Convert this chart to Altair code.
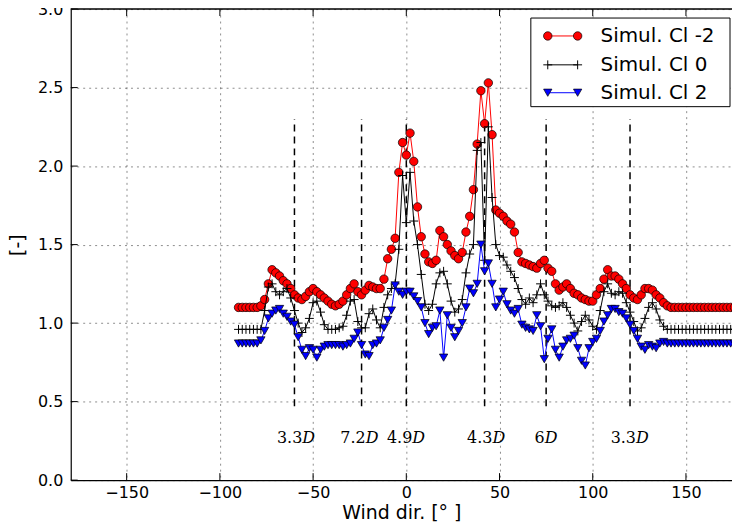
import altair as alt
import pandas as pd

# ---------------- data ----------------
wind_dir = list(range(-90, 182, 2))  # -90 .. 180 deg, 136 directions

series_names = ["Simul. Cl -2", "Simul. Cl 0", "Simul. Cl 2"]
series_colors = ["#ff0000", "#000000", "#0000ff"]

cl_m2 = [
    1.10, 1.10, 1.10, 1.10, 1.10, 1.10, 1.11, 1.15, 1.25, 1.34,
    1.32, 1.30, 1.27, 1.25, 1.22, 1.18, 1.16, 1.15, 1.17, 1.20,
    1.22, 1.20, 1.18, 1.16, 1.14, 1.12, 1.11, 1.12, 1.14, 1.18,
    1.22, 1.25, 1.20, 1.18, 1.21, 1.24, 1.23, 1.22, 1.22, 1.28,
    1.41, 1.47, 1.54, 1.96, 2.15, 2.07, 2.21, 2.03, 1.74, 1.55,
    1.44, 1.39, 1.38, 1.40, 1.59, 1.55, 1.50, 1.46, 1.43, 1.41,
    1.45, 1.58, 1.68, 1.85, 2.14, 2.48, 2.27, 2.53, 2.20, 1.72,
    1.70, 1.68, 1.65, 1.63, 1.58, 1.45, 1.39, 1.38, 1.37, 1.36,
    1.35, 1.38, 1.40, 1.35, 1.33, 1.25, 1.21, 1.23, 1.25, 1.22,
    1.19, 1.18, 1.16, 1.15, 1.14, 1.14, 1.18, 1.22, 1.28, 1.34,
    1.30, 1.30, 1.28, 1.25, 1.22, 1.18, 1.16, 1.15, 1.18, 1.22,
    1.22, 1.21, 1.18, 1.16, 1.13, 1.11, 1.10, 1.10, 1.10, 1.10,
    1.10, 1.10, 1.10, 1.10, 1.10, 1.10, 1.10, 1.10, 1.10, 1.10,
    1.10, 1.10, 1.10, 1.10, 1.10, 1.10,
]
cl_0 = [
    0.96, 0.96, 0.96, 0.96, 0.96, 0.96, 0.96, 1.08, 1.23, 1.25,
    1.20, 1.18, 1.20, 1.22, 1.16, 1.08, 1.00, 0.94, 0.97, 1.03,
    1.13, 1.14, 1.07, 0.99, 0.96, 0.96, 0.96, 0.97, 0.98, 1.05,
    1.14, 1.15, 1.01, 0.97, 0.97, 1.06, 1.09, 1.02, 0.97, 1.10,
    1.18, 1.22, 1.25, 1.47, 1.94, 1.64, 1.96, 1.65, 1.50, 1.31,
    1.12, 1.08, 1.12, 1.25, 1.32, 1.33, 1.25, 1.14, 1.07, 1.09,
    1.15, 1.32, 1.44, 1.50, 2.10, 2.15, 1.40, 2.25, 1.80, 1.50,
    1.43, 1.42, 1.37, 1.33, 1.29, 1.22, 1.15, 1.12, 1.16, 1.13,
    1.18, 1.25, 1.18, 1.14, 1.11, 1.10, 1.11, 1.13, 1.10, 1.05,
    1.00, 0.95, 1.01, 1.05, 1.02, 0.98, 0.96, 1.08, 1.20, 1.25,
    1.19, 1.18, 1.20, 1.19, 1.13, 1.07, 1.01, 0.95, 0.97, 1.03,
    1.10, 1.13, 1.09, 1.02, 0.98, 0.96, 0.96, 0.96, 0.96, 0.96,
    0.96, 0.96, 0.96, 0.96, 0.96, 0.96, 0.96, 0.96, 0.96, 0.96,
    0.96, 0.96, 0.96, 0.96, 0.96, 0.96,
]
cl_2 = [
    0.87, 0.87, 0.87, 0.87, 0.87, 0.87, 0.89, 0.95, 1.03, 1.06,
    1.08, 1.09, 1.06, 1.04, 1.01, 0.99, 0.91, 0.83, 0.79, 0.84,
    0.83, 0.78, 0.83, 0.85, 0.86, 0.86, 0.86, 0.86, 0.85, 0.86,
    0.87, 0.90, 0.94, 0.86, 0.80, 0.79, 0.86, 0.87, 0.89, 0.97,
    1.02, 1.08, 1.24, 1.20, 1.18, 1.20, 1.20, 1.17, 1.14, 1.10,
    1.00, 0.93, 0.97, 0.98, 1.08, 0.78, 1.05, 0.97, 0.91, 0.95,
    1.00, 1.10, 1.22, 1.19, 1.25, 1.50, 1.33, 1.38, 1.25, 1.10,
    1.15, 1.20, 1.12, 1.08, 1.06, 1.09, 0.99, 0.97, 0.96, 0.95,
    1.05, 0.98, 0.77, 0.90, 0.96, 0.83, 0.78, 0.85, 0.89, 0.90,
    0.92, 0.84, 0.76, 0.73, 0.84, 0.88, 0.90, 0.95, 1.01, 1.05,
    1.09, 1.09, 1.07, 1.06, 1.03, 0.99, 0.95, 0.90, 0.85, 0.83,
    0.86, 0.85, 0.84, 0.87, 0.88, 0.87, 0.87, 0.87, 0.87, 0.87,
    0.87, 0.87, 0.87, 0.87, 0.87, 0.87, 0.87, 0.87, 0.87, 0.87,
    0.87, 0.87, 0.87, 0.87, 0.87, 0.87,
]

x_ticks = [-150, -100, -50, 0, 50, 100, 150]
y_ticks = [0.0, 0.5, 1.0, 1.5, 2.0, 2.5, 3.0]
x_domain = [-180, 174.7]
y_domain = [0.0, 3.0]

vline_dir = [-60, -24, 0, 42, 75, 120]
vline_bottom = [0.47, 0.47, 0.47, 0.47, 0.47, 0.47]
vline_top = [2.30, 2.30, 2.30, 2.30, 2.30, 2.30]

label_dir = [-59, -25, 0, 43, 71, 120]
label_num = ["3.3", "7.2", "4.9", "4.3", "6", "3.3"]
label_y = [0.27, 0.27, 0.27, 0.27, 0.27, 0.27]

# ---------------- frames ----------------
rows = []
for name, vals in zip(series_names, [cl_m2, cl_0, cl_2]):
    assert len(vals) == len(wind_dir)
    for d, v in zip(wind_dir, vals):
        rows.append({"dir": d, "value": v, "series": name})
df = pd.DataFrame(rows)

df_v = pd.DataFrame({"dir": vline_dir, "value": vline_bottom, "top": vline_top})
df_lab = pd.DataFrame({"dir": label_dir, "value": label_y, "num": label_num})
df_xt = pd.DataFrame({"dir": x_ticks})
df_yt = pd.DataFrame({"value": y_ticks})
one = pd.DataFrame({"k": [0]})

W, H = 664, 473

x_scale = alt.Scale(domain=x_domain, nice=False, zero=False)
y_scale = alt.Scale(domain=y_domain, nice=False, zero=False)

x_enc = alt.X(
    "dir:Q", scale=x_scale,
    axis=alt.Axis(values=x_ticks, title="Wind dir. [° ]", grid=True, ticks=False,
                  labelFontSize=16, titleFontSize=19, labelPadding=4, titlePadding=4,
                  labelFlush=False, titleFontWeight="normal"),
)
y_enc = alt.Y(
    "value:Q", scale=y_scale,
    axis=alt.Axis(values=y_ticks, format=".1f", title="[-]", grid=True, ticks=False,
                  labelFontSize=16, titleFontSize=19, labelPadding=8, titlePadding=10,
                  labelFlush=False, titleFontWeight="normal"),
)

plus_path = "M-1,0L1,0M0,-1L0,1"
shapes = ["circle", plus_path, "triangle-down"]
sizes = [72, 80, 70]
stroke_widths = [0.7, 1.0, 0.7]

layers = []

# dashed reference lines
layers.append(
    alt.Chart(df_v).mark_rule(color="black", strokeWidth=1.5, strokeDash=[7, 5])
    .encode(x=x_enc, y=y_enc, y2="top:Q")
)
# distance labels
layers.append(
    alt.Chart(df_lab).mark_text(align="right", baseline="middle", dx=6,
                                font="DejaVu Serif", fontSize=16, color="black")
    .encode(x=x_enc, y=y_enc, text="num:N")
)
layers.append(
    alt.Chart(df_lab).mark_text(align="left", baseline="middle", dx=6,
                                font="DejaVu Serif", fontStyle="italic",
                                fontSize=16, color="black", text="D")
    .encode(x=x_enc, y=y_enc)
)

for name, col, shp, sz, sw in zip(series_names, series_colors, shapes, sizes, stroke_widths):
    base = alt.Chart(df).transform_filter(alt.datum.series == name)
    layers.append(
        base.mark_line(color=col, strokeWidth=1, clip=True)
        .encode(x=x_enc, y=y_enc, order="dir:Q")
    )
    layers.append(
        base.mark_point(filled=True, fill=col, stroke="black", strokeWidth=sw,
                        size=sz, shape=shp, opacity=1, clip=True)
        .encode(x=x_enc, y=y_enc)
    )

# inward ticks (matplotlib classic style) and top frame
layers.append(
    alt.Chart(df_xt).mark_rule(color="black", strokeWidth=1)
    .encode(x=x_enc, y=alt.value(H), y2=alt.value(H - 7))
)
layers.append(
    alt.Chart(df_xt).mark_rule(color="black", strokeWidth=1)
    .encode(x=x_enc, y=alt.value(0), y2=alt.value(7))
)
layers.append(
    alt.Chart(df_yt).mark_rule(color="black", strokeWidth=1)
    .encode(y=y_enc, x=alt.value(0), x2=alt.value(7))
)
layers.append(
    alt.Chart(one).mark_rule(color="black", strokeWidth=1.5)
    .encode(y=alt.value(0), x=alt.value(0), x2=alt.value(W))
)

# legend box (matplotlib style: line with a marker at each end)
leg_left, leg_right, leg_top, leg_bottom = 462, 662, 9, 98
row_y = [27, 56, 84]
seg_x0, seg_x1, text_x = 479, 509, 532
layers.append(
    alt.Chart(one).mark_rect(fill="white", stroke="black", strokeWidth=1)
    .encode(x=alt.value(leg_left), x2=alt.value(leg_right),
            y=alt.value(leg_top), y2=alt.value(leg_bottom))
)
for name, col, shp, sz, sw, ry in zip(series_names, series_colors, shapes, sizes,
                                      stroke_widths, row_y):
    layers.append(
        alt.Chart(one).mark_rule(color=col, strokeWidth=1)
        .encode(x=alt.value(seg_x0), x2=alt.value(seg_x1), y=alt.value(ry))
    )
    for sx in (seg_x0, seg_x1):
        layers.append(
            alt.Chart(one).mark_point(filled=True, fill=col, stroke="black",
                                      strokeWidth=sw, size=sz, shape=shp, opacity=1)
            .encode(x=alt.value(sx), y=alt.value(ry))
        )
    layers.append(
        alt.Chart(one).mark_text(align="left", baseline="middle", fontSize=20,
                                 font="DejaVu Sans", color="black", text=name)
        .encode(x=alt.value(text_x), y=alt.value(ry))
    )

chart = (
    alt.layer(*layers)
    .properties(width=W, height=H,
                autosize=alt.AutoSizeParams(type="none"),
                padding={"left": 63, "top": 0, "right": 0, "bottom": 47})
    .configure_view(stroke=None)
    .configure_axis(labelFont="DejaVu Sans", titleFont="DejaVu Sans",
                    labelColor="black", titleColor="black",
                    domainColor="black", domainWidth=1.2,
                    gridColor="#000000", gridOpacity=0.45, gridDash=[2, 4],
                    gridWidth=1)
)

chart.save("out.html", embed_options={"renderer": "svg", "actions": False})
